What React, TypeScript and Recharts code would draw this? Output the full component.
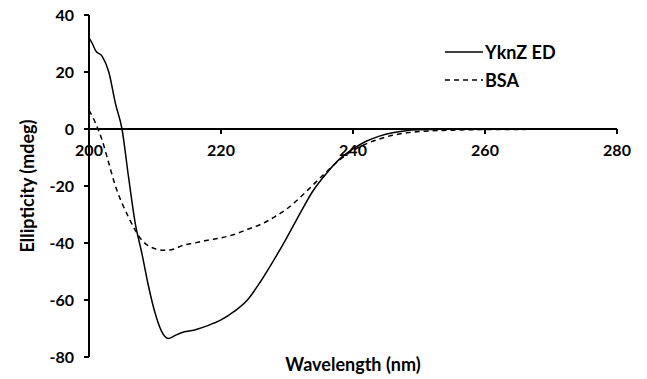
import { LineChart, Line, XAxis, YAxis, ReferenceLine, Label } from "recharts";

const wavelengths = [
  200, 200.5, 201, 202, 203, 204, 205, 206, 207, 208, 209, 210, 211, 212, 213, 214, 216, 218,
  220, 222, 224, 226, 228, 230, 232, 234, 236, 238, 240, 242, 244, 246, 248, 250, 255, 260,
  270, 280,
];

const yknzEd = [
  32, 30, 27.5, 25.5, 20, 9, 0, -17, -33, -43.5, -55, -64.5, -71, -73.5, -72.5, -71.5, -70.5,
  -69, -67, -64, -60, -53.5, -46, -38, -29.5, -21.5, -15.5, -10.5, -7, -4.3, -2.5, -1.3, -0.6,
  -0.3, -0.1, 0, 0, 0,
];

const bsa = [
  6.5, 4.5, 2, -4, -12, -20, -26, -31, -35.5, -39, -41, -42, -42.5, -42.5, -42, -41, -40, -39,
  -38.2, -37, -35.2, -33.5, -31, -28, -24, -19.5, -15, -10.8, -7.5, -5.2, -3.5, -2.2, -1.4, -0.9,
  -0.4, -0.2, -0.1, 0,
];

const xTicks = [200, 220, 240, 260, 280];
const yTicks = [-80, -60, -40, -20, 0, 20, 40];

const data = wavelengths.map((wl, i) => ({ wl, yknz: yknzEd[i], bsa: bsa[i] }));

const FONT = "Lato, 'Open Sans', sans-serif";
const W = 647;
const H = 379;
const M = { top: 15, right: 30, left: 0, bottom: 0 };
const X_AXIS_H = 22;
const Y_MIN = -80;
const Y_MAX = 40;
const PLOT_H = H - M.top - M.bottom - X_AXIS_H;
// the x axis sits on the zero line, not the bottom of the plot
const ZERO_Y = M.top + (PLOT_H * Y_MAX) / (Y_MAX - Y_MIN);

const series = [
  { key: "yknz", name: "YknZ ED", dash: undefined as string | undefined },
  { key: "bsa", name: "BSA", dash: "5 4" },
];

function XTick(props: any) {
  const { x, payload } = props;
  return (
    <g>
      <line x1={x} x2={x} y1={ZERO_Y} y2={ZERO_Y + 5} stroke="#000" strokeWidth={2} />
      <text
        x={x}
        y={ZERO_Y + 27}
        textAnchor="middle"
        fontFamily={FONT}
        fontWeight="bold"
        fontSize={16}
        fill="#000"
      >
        {payload.value}
      </text>
    </g>
  );
}

function LegendBox() {
  return (
    <div
      style={{
        position: "absolute",
        left: 445,
        top: 38,
        fontFamily: FONT,
        fontWeight: "bold",
        fontSize: 18,
        color: "#000",
      }}
    >
      {series.map((s) => (
        <div key={s.key} style={{ display: "flex", alignItems: "center", height: 28 }}>
          <svg width={38} height={4} style={{ marginRight: 2 }}>
            <line x1={0} x2={38} y1={2} y2={2} stroke="#000" strokeWidth={1.5} strokeDasharray={s.dash} />
          </svg>
          <span>{s.name}</span>
        </div>
      ))}
    </div>
  );
}

export default function App() {
  return (
    <div style={{ position: "relative", width: W, height: H, background: "#fff" }}>
      <style>{"body{margin:0}"}</style>
      <LineChart width={W} height={H} data={data} margin={M}>
        <XAxis
          dataKey="wl"
          type="number"
          domain={[200, 280]}
          ticks={xTicks}
          axisLine={false}
          tickLine={false}
          height={X_AXIS_H}
          tick={<XTick />}
          interval={0}
        >
          <Label
            content={(p: any) => (
              <text
                x={p.viewBox.x + p.viewBox.width / 2}
                y={371}
                textAnchor="middle"
                fontFamily={FONT}
                fontWeight="bold"
                fontSize={18}
                fill="#000"
              >
                Wavelength (nm)
              </text>
            )}
          />
        </XAxis>
        <YAxis
          type="number"
          domain={[Y_MIN, Y_MAX]}
          ticks={yTicks}
          width={89}
          axisLine={{ stroke: "#000", strokeWidth: 2 }}
          tickLine={{ stroke: "#000", strokeWidth: 2 }}
          tickSize={5}
          tickMargin={10}
          tick={{ fill: "#000", fontFamily: FONT, fontWeight: "bold", fontSize: 16 }}
          interval={0}
        >
          <Label
            content={(p: any) => {
              const cy = p.viewBox.y + p.viewBox.height / 2;
              return (
                <text
                  x={27}
                  y={cy}
                  transform={`rotate(-90 27 ${cy})`}
                  textAnchor="middle"
                  dominantBaseline="central"
                  fontFamily={FONT}
                  fontWeight="bold"
                  fontSize={18}
                  fill="#000"
                >
                  Ellipticity (mdeg)
                </text>
              );
            }}
          />
        </YAxis>
        <ReferenceLine y={0} stroke="#000" strokeWidth={2} />
        {series.map((s) => (
          <Line
            key={s.key}
            dataKey={s.key}
            name={s.name}
            type="monotone"
            stroke="#000"
            strokeWidth={1.5}
            strokeDasharray={s.dash}
            dot={false}
            isAnimationActive={false}
          />
        ))}
      </LineChart>
      <LegendBox />
    </div>
  );
}
